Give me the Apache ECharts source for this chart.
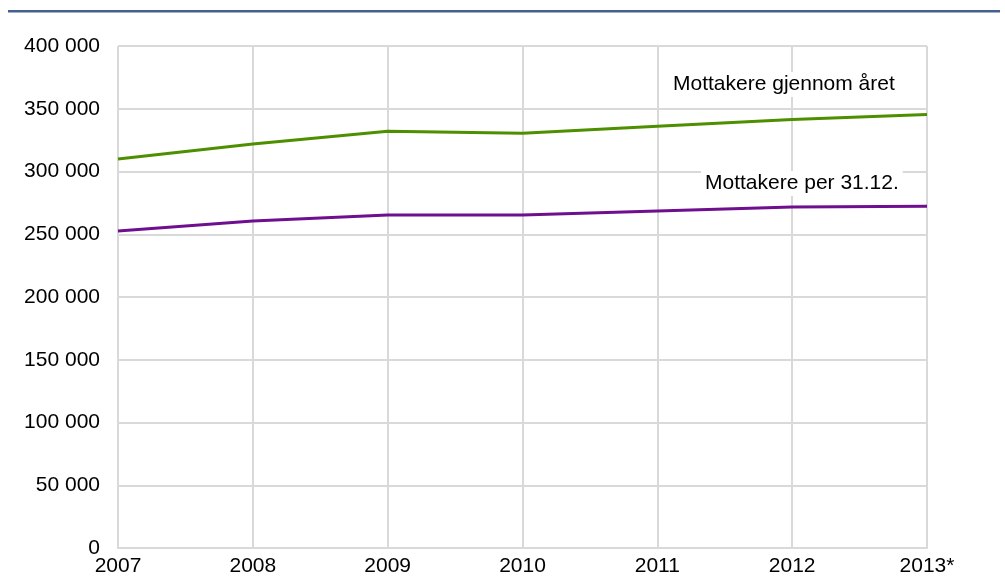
<!DOCTYPE html>
<html>
<head>
<meta charset="utf-8">
<script src="https://cdn.jsdelivr.net/npm/echarts@6/dist/echarts.min.js"></script>
<style>
  html, body { margin: 0; padding: 0; background: #fff; }
  #chart { width: 1005px; height: 585px; }
</style>
</head>
<body>
<div id="chart"></div>
<script>
// år (2013 foreløpige tall)
const years = ['2007', '2008', '2009', '2010', '2011', '2012', '2013*']
// mottakere gjennom året
const gjennomAret = [310000, 322000, 332000, 330500, 336000, 341500, 345500]
// mottakere per 31.12.
const per3112 = [252500, 260500, 265300, 265300, 268500, 271700, 272300]
const yTicks = [0, 50000, 100000, 150000, 200000, 250000, 300000, 350000, 400000]

const chart = echarts.init(document.getElementById('chart'))
const fmt = v => String(v).replace(/\B(?=(\d{3})+(?!\d))/g, ' ')
const font = '"Liberation Sans", Arial, sans-serif'

chart.setOption({
  animation: false,
  textStyle: { fontFamily: font },
  grid: { left: 118, right: 78, top: 46, bottom: 37 },
  xAxis: {
    type: 'category',
    data: years,
    boundaryGap: false,
    axisLine: { lineStyle: { color: '#d9d9d9', width: 2 } },
    axisTick: { show: false },
    axisLabel: { color: '#000', fontSize: 21, margin: 8, fontFamily: font },
    splitLine: { show: true, lineStyle: { color: '#d9d9d9', width: 2 } }
  },
  yAxis: {
    type: 'value',
    min: yTicks[0],
    max: yTicks[yTicks.length - 1],
    interval: 50000,
    axisLine: { show: false },
    axisTick: { show: false },
    axisLabel: { color: '#000', fontSize: 21, margin: 18, fontFamily: font, formatter: fmt },
    splitLine: { lineStyle: { color: '#d9d9d9', width: 2 } }
  },
  series: [
    {
      name: 'Mottakere gjennom året',
      type: 'line',
      data: gjennomAret,
      symbol: 'none',
      lineStyle: { color: '#4e8f00', width: 3 },
      z: 3
    },
    {
      name: 'Mottakere per 31.12.',
      type: 'line',
      data: per3112,
      symbol: 'none',
      lineStyle: { color: '#6f0f8f', width: 3 },
      z: 3
    }
  ],
  graphic: [
    // strek under figurtittel
    { type: 'rect', left: 8, top: 10, shape: { width: 992, height: 2.5 }, style: { fill: '#44618f' } },
    {
      type: 'text', left: 669, top: 72, z: 10,
      style: {
        text: 'Mottakere gjennom året', fill: '#000', font: '21px ' + font,
        backgroundColor: '#fff', padding: [2, 4]
      }
    },
    {
      type: 'text', left: 701, top: 171, z: 10,
      style: {
        text: 'Mottakere per 31.12.', fill: '#000', font: '21px ' + font,
        backgroundColor: '#fff', padding: [2, 4]
      }
    }
  ]
})
</script>
</body>
</html>
